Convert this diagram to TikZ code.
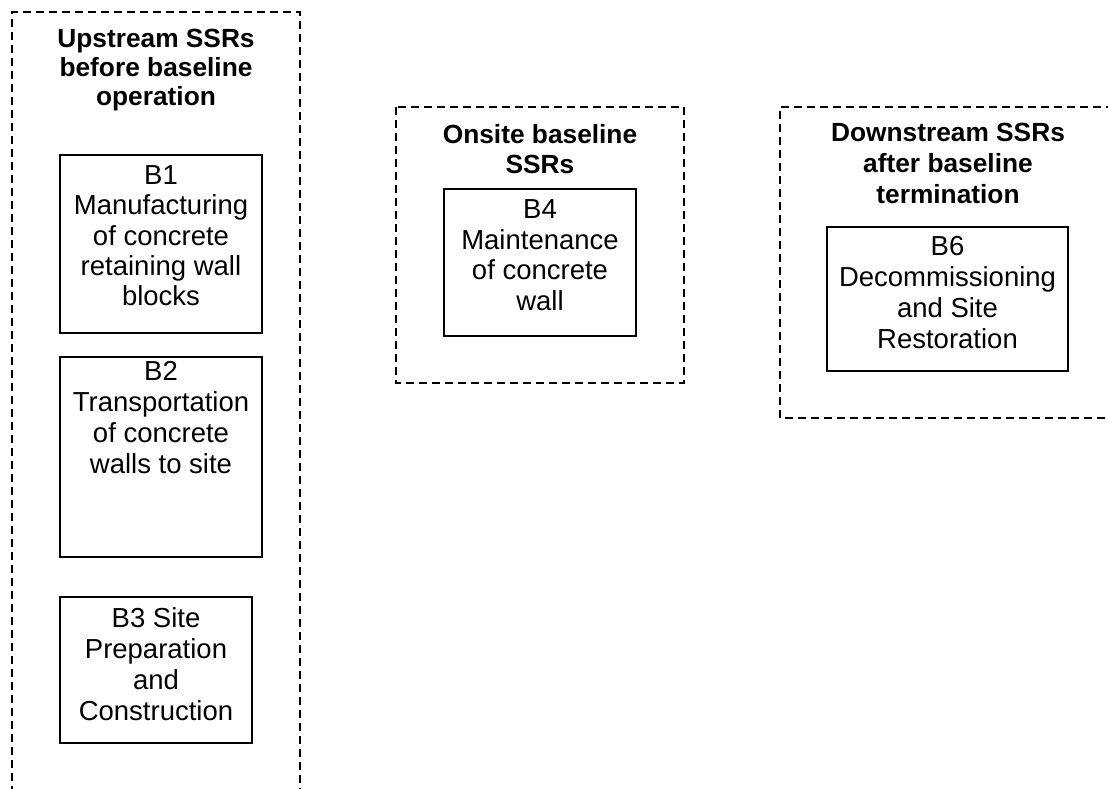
\documentclass[tikz,border=0pt]{standalone}
\usepackage{fontspec}
\setmainfont{Liberation Sans}
\begin{document}
\begin{tikzpicture}[x=1pt,y=-1pt,
  group/.style={draw=black, line width=1.3pt, dash pattern=on 8pt off 5pt},
  boxnode/.style={draw=black, line width=1.6pt, rectangle, inner sep=0pt},
  titletext/.style={align=center, inner sep=0pt, anchor=north, font=\fontsize{26.3}{30}\selectfont\bfseries},
  bodytext/.style={align=center, inner sep=0pt, anchor=north, font=\fontsize{27.5}{31}\selectfont}]
\useasboundingbox (0,0) rectangle (1108,788);
\clip (0,0) rectangle (1108,788);
% dashed groups
\draw[group] (12,820) -- (12,12) -- (300,12) -- (300,820);
\draw[group] (396,107) rectangle (684,383);
\draw[group] (1140,107) -- (780,107) -- (780,418) -- (1140,418);
% titles
\node[titletext, font=\fontsize{26.3}{29}\selectfont\bfseries] (t1) at (156,28.5) {Upstream SSRs\\before baseline\\operation};
\node[titletext] (t2) at (540,124.2) {Onsite baseline\\SSRs};
\node[titletext, font=\fontsize{26.3}{31}\selectfont\bfseries] (t3) at (948,122.8) {Downstream SSRs\\after baseline\\termination};
% boxes
\node[boxnode, minimum width=202pt, minimum height=178pt] (b1) at (161,244) {};
\node[boxnode, minimum width=202pt, minimum height=200pt] (b2) at (161,457) {};
\node[boxnode, minimum width=192pt, minimum height=146pt] (b3) at (156,670) {};
\node[boxnode, minimum width=192pt, minimum height=147pt] (b4) at (540,262.5) {};
\node[boxnode, minimum width=241pt, minimum height=144pt] (b6) at (947.5,299) {};
% box texts
\node[bodytext, font=\fontsize{27.5}{30.2}\selectfont] (l1) at (161,165.5) {B1\\Manufacturing\\of concrete\\retaining wall\\blocks};
\node[bodytext] (l2) at (161,361) {B2\\Transportation\\of concrete\\walls to site};
\node[bodytext] (l3) at (156,607.5) {B3 Site\\Preparation\\and\\Construction};
\node[bodytext, font=\fontsize{27.5}{30.6}\selectfont] (l4) at (540,199.5) {B4\\Maintenance\\of concrete\\wall};
\node[bodytext] (l6) at (947.5,236.5) {B6\\Decommissioning\\and Site\\Restoration};
\end{tikzpicture}
\end{document}
